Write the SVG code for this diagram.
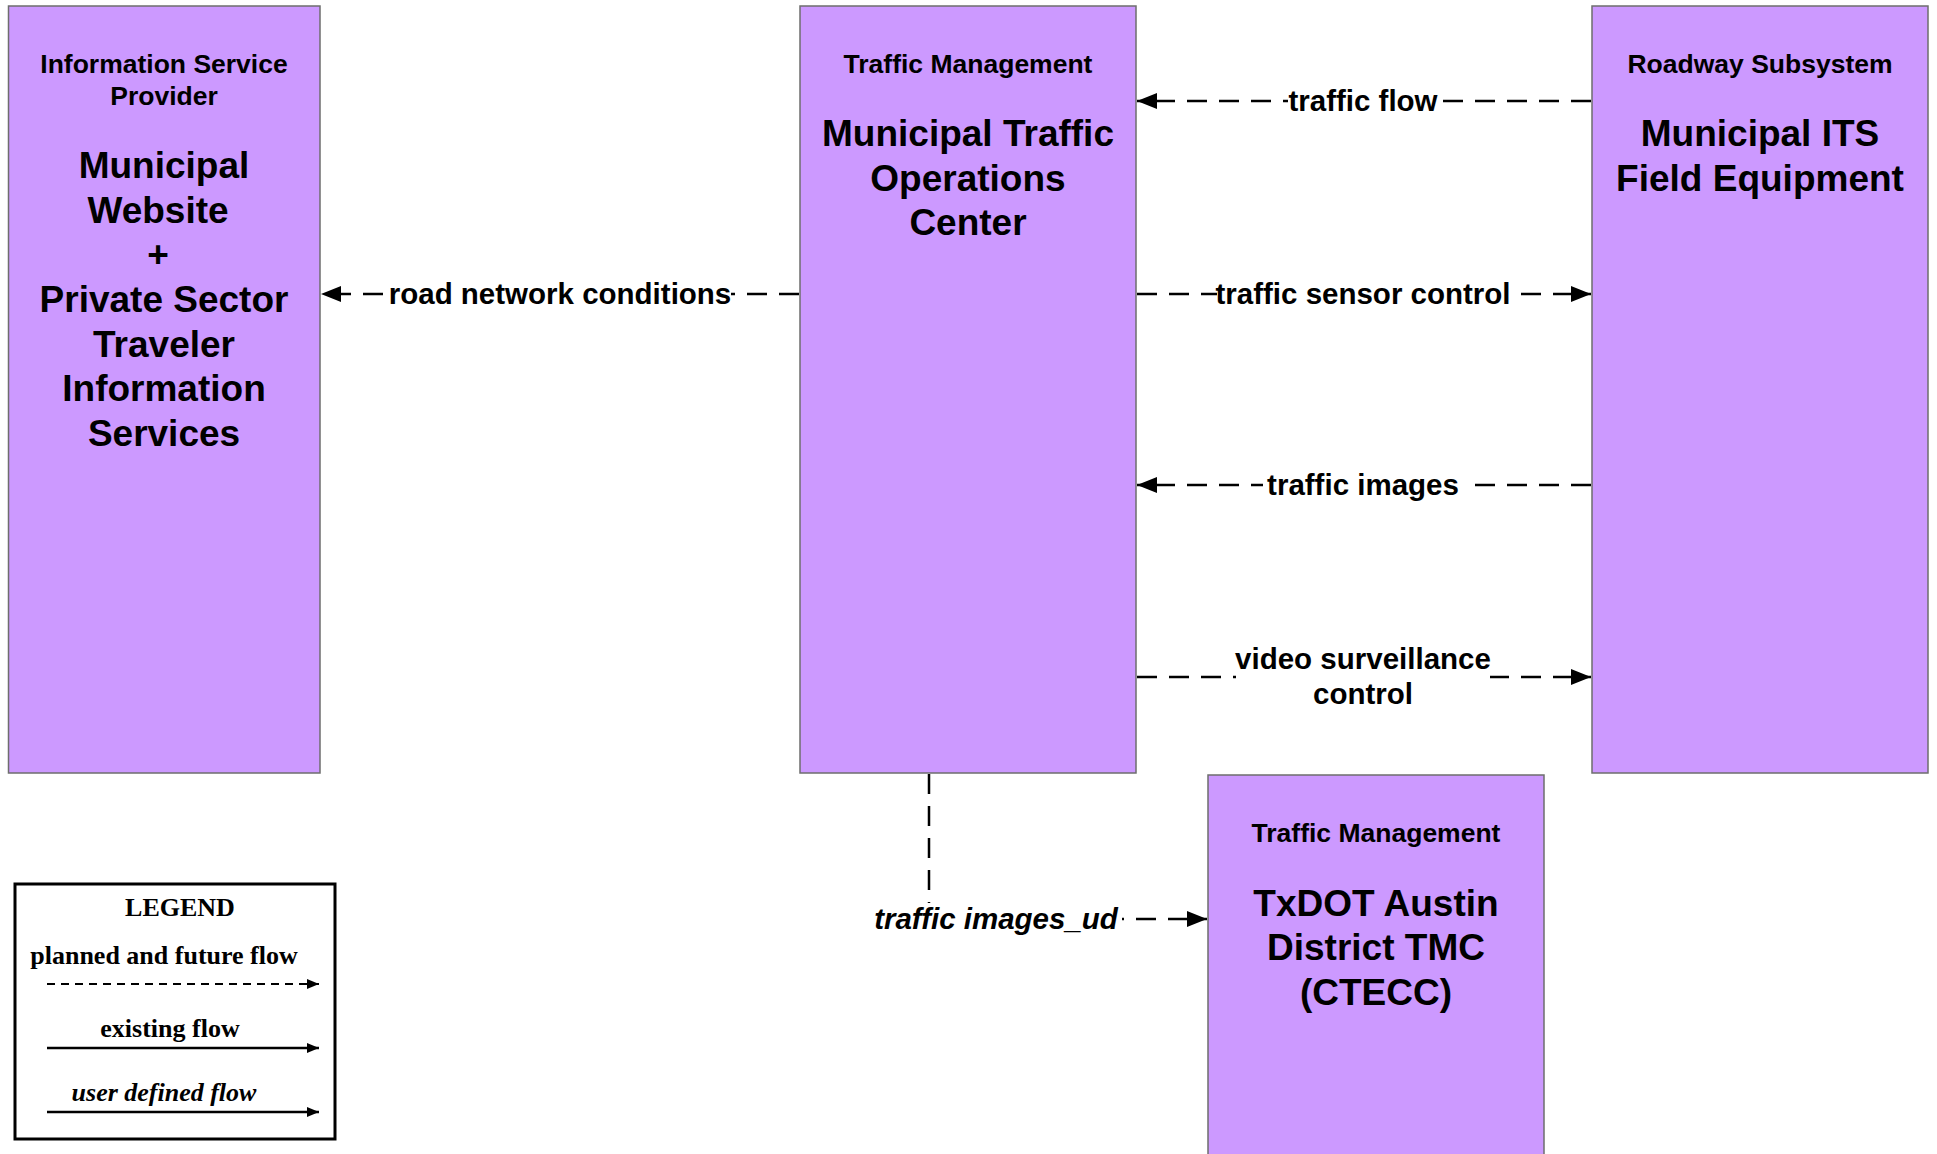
<svg xmlns="http://www.w3.org/2000/svg" width="1937" height="1154" viewBox="0 0 1937 1154">
<style>
.node{fill:#CC99FF;stroke:#6E6E6E;stroke-width:1.5}
.cat{font-family:"Liberation Sans",Arial,sans-serif;font-weight:bold;font-size:26.5px;text-anchor:middle;fill:#000}
.ttl{font-family:"Liberation Sans",Arial,sans-serif;font-weight:bold;font-size:37px;text-anchor:middle;fill:#000}
.flow{fill:none;stroke:#000;stroke-width:2.5;stroke-dasharray:20 12}
.bg{fill:#fff}
.lbl{font-family:"Liberation Sans",Arial,sans-serif;font-weight:bold;font-size:29.5px;text-anchor:middle;fill:#000}
.it{font-style:italic}
.lg{font-family:"Liberation Serif","Times New Roman",serif;font-weight:bold;font-size:26px;text-anchor:middle;fill:#000}
</style>
<defs>
<marker id="ah" markerUnits="userSpaceOnUse" markerWidth="20" markerHeight="16" refX="20" refY="8" orient="auto">
<path d="M0,0 L20,8 L0,16 Z" fill="#000"/>
</marker>
<marker id="ahs" markerUnits="userSpaceOnUse" markerWidth="12" markerHeight="10" refX="12" refY="5" orient="auto">
<path d="M0,0 L12,5 L0,10 Z" fill="#000"/>
</marker>
</defs>
<rect width="1937" height="1154" fill="#fff"/>

<g id="isp">
<rect class="node" x="8.5" y="6" width="311.5" height="767"/>
<text class="cat" x="164" y="73">Information Service</text>
<text class="cat" x="164" y="105">Provider</text>
<text class="ttl" x="164" y="178">Municipal</text>
<text class="ttl" x="158" y="223">Website</text>
<text class="ttl" x="158" y="267">+</text>
<text class="ttl" x="164" y="312">Private Sector</text>
<text class="ttl" x="164" y="357">Traveler</text>
<text class="ttl" x="164" y="401">Information</text>
<text class="ttl" x="164" y="446">Services</text>
</g>

<g id="tmc">
<rect class="node" x="800" y="6" width="336" height="767"/>
<text class="cat" x="968" y="73">Traffic Management</text>
<text class="ttl" x="968" y="146">Municipal Traffic</text>
<text class="ttl" x="968" y="191">Operations</text>
<text class="ttl" x="968" y="235">Center</text>
</g>

<g id="roadway">
<rect class="node" x="1592" y="6" width="336" height="767"/>
<text class="cat" x="1760" y="73">Roadway Subsystem</text>
<text class="ttl" x="1760" y="146">Municipal ITS</text>
<text class="ttl" x="1760" y="191">Field Equipment</text>
</g>

<g id="txdot">
<rect class="node" x="1208" y="775" width="336" height="400"/>
<text class="cat" x="1376" y="842">Traffic Management</text>
<text class="ttl" x="1376" y="916">TxDOT Austin</text>
<text class="ttl" x="1376" y="960">District TMC</text>
<text class="ttl" x="1376" y="1005">(CTECC)</text>
</g>

<g id="connectors">
<path class="flow" d="M799,294 L321,294" marker-end="url(#ah)"/>
<rect class="bg" x="389" y="278" width="342" height="32"/>
<text class="lbl" x="560" y="304">road network conditions</text>
<path class="flow" d="M1591,101 L1137,101" marker-end="url(#ah)"/>
<rect class="bg" x="1288" y="85" width="150" height="32"/>
<text class="lbl" x="1363" y="111">traffic flow</text>
<path class="flow" d="M1137,294 L1591,294" marker-end="url(#ah)"/>
<rect class="bg" x="1217" y="278" width="293" height="32"/>
<text class="lbl" x="1363" y="304">traffic sensor control</text>
<path class="flow" d="M1591,485 L1137,485" marker-end="url(#ah)"/>
<rect class="bg" x="1263" y="469" width="200" height="32"/>
<text class="lbl" x="1363" y="495">traffic images</text>
<path class="flow" d="M1137,677 L1591,677" marker-end="url(#ah)"/>
<rect class="bg" x="1236" y="644" width="254" height="68"/>
<text class="lbl" x="1363" y="669">video surveillance</text>
<text class="lbl" x="1363" y="704">control</text>
<path class="flow" d="M929,774 L929,919 L1207,919" marker-end="url(#ah)"/>
<rect class="bg" x="871" y="903" width="251" height="32"/>
<text class="lbl it" x="996" y="929">traffic images_ud</text>
</g>

<g id="legend">
<rect x="15" y="884" width="320" height="255" fill="#fff" stroke="#000" stroke-width="3"/>
<text class="lg" x="180" y="916">LEGEND</text>
<text class="lg" x="164" y="964">planned and future flow</text>
<line x1="47" y1="984" x2="319" y2="984" stroke="#000" stroke-width="2" stroke-dasharray="8 6" marker-end="url(#ahs)"/>
<text class="lg" x="170" y="1037">existing flow</text>
<line x1="47" y1="1048" x2="319" y2="1048" stroke="#000" stroke-width="2.5" marker-end="url(#ahs)"/>
<text class="lg" x="164" y="1101" font-style="italic">user defined flow</text>
<line x1="47" y1="1112" x2="319" y2="1112" stroke="#000" stroke-width="2.5" marker-end="url(#ahs)"/>
</g>
</svg>
